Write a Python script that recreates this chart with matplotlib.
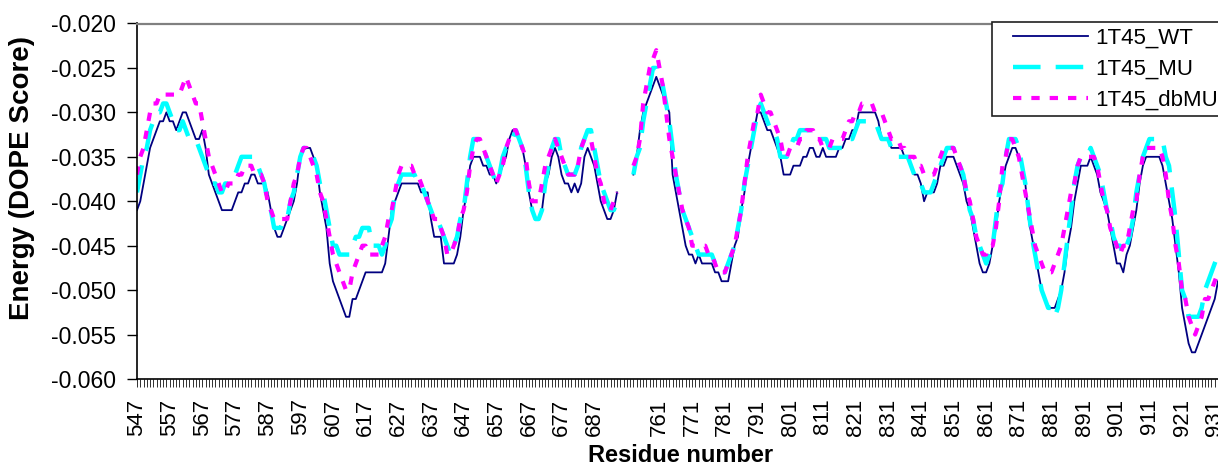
import numpy as np
import matplotlib
matplotlib.use("Agg")
import matplotlib.pyplot as plt
from matplotlib.lines import Line2D
from matplotlib.legend_handler import HandlerLine2D

plt.rcParams["font.family"] = ["Liberation Sans", "DejaVu Sans"]
plt.rcParams["axes.unicode_minus"] = False

# Residue categories: two modelled stretches separated by a few empty rows
residues_a = list(range(547, 695))
residues_b = list(range(753, 933))
n_gap = 4
categories = [str(r) for r in residues_a] + [""] * n_gap + [str(r) for r in residues_b]

# DOPE energy profiles, first stretch (547-694)
wt_a = [-0.041, -0.040, -0.038, -0.036, -0.034, -0.033, -0.032, -0.031, -0.031, -0.030,
        -0.031, -0.031, -0.032, -0.031, -0.030, -0.030, -0.031, -0.032, -0.033, -0.033,
        -0.032, -0.034, -0.037, -0.038, -0.039, -0.040, -0.041, -0.041, -0.041, -0.041,
        -0.040, -0.039, -0.039, -0.038, -0.038, -0.037, -0.037, -0.038, -0.038, -0.038,
        -0.039, -0.041, -0.043, -0.044, -0.044, -0.043, -0.042, -0.041, -0.040, -0.038,
        -0.035, -0.034, -0.034, -0.034, -0.035, -0.036, -0.039, -0.041, -0.043, -0.047,
        -0.049, -0.050, -0.051, -0.052, -0.053, -0.053, -0.051, -0.051, -0.050, -0.049,
        -0.048, -0.048, -0.048, -0.048, -0.048, -0.048, -0.047, -0.044, -0.041, -0.040,
        -0.039, -0.038, -0.038, -0.038, -0.038, -0.038, -0.038, -0.039, -0.039, -0.039,
        -0.042, -0.044, -0.044, -0.044, -0.047, -0.047, -0.047, -0.047, -0.046, -0.044,
        -0.041, -0.039, -0.036, -0.035, -0.035, -0.035, -0.036, -0.036, -0.037, -0.037,
        -0.038, -0.037, -0.036, -0.035, -0.033, -0.032, -0.032, -0.033, -0.034, -0.036,
        -0.039, -0.041, -0.042, -0.042, -0.041, -0.038, -0.037, -0.035, -0.034, -0.035,
        -0.037, -0.038, -0.038, -0.039, -0.038, -0.039, -0.038, -0.035, -0.034, -0.035,
        -0.036, -0.038, -0.040, -0.041, -0.042, -0.042, -0.041, -0.039]
mu_a = [-0.039, -0.037, -0.035, -0.034, -0.032, -0.031, -0.030, -0.030, -0.029, -0.029,
        -0.030, -0.031, -0.032, -0.032, -0.031, -0.032, -0.033, -0.033, -0.033, -0.034,
        -0.035, -0.036, -0.037, -0.038, -0.038, -0.039, -0.039, -0.038, -0.038, -0.037,
        -0.037, -0.036, -0.035, -0.035, -0.035, -0.035, -0.035, -0.036, -0.037, -0.038,
        -0.040, -0.041, -0.043, -0.043, -0.043, -0.042, -0.042, -0.040, -0.039, -0.037,
        -0.035, -0.034, -0.034, -0.034, -0.035, -0.036, -0.038, -0.039, -0.041, -0.043,
        -0.045, -0.045, -0.046, -0.046, -0.046, -0.046, -0.045, -0.044, -0.044, -0.043,
        -0.043, -0.043, -0.045, -0.045, -0.045, -0.046, -0.045, -0.043, -0.042, -0.039,
        -0.038, -0.037, -0.037, -0.037, -0.037, -0.037, -0.038, -0.038, -0.039, -0.040,
        -0.041, -0.042, -0.042, -0.043, -0.044, -0.045, -0.046, -0.045, -0.044, -0.042,
        -0.041, -0.038, -0.035, -0.033, -0.033, -0.033, -0.034, -0.035, -0.036, -0.037,
        -0.038, -0.037, -0.035, -0.034, -0.034, -0.033, -0.032, -0.033, -0.034, -0.036,
        -0.039, -0.041, -0.042, -0.042, -0.041, -0.038, -0.036, -0.034, -0.033, -0.033,
        -0.035, -0.036, -0.037, -0.037, -0.037, -0.036, -0.034, -0.033, -0.032, -0.032,
        -0.034, -0.036, -0.038, -0.039, -0.040, -0.041, -0.041, -0.040]
dbmu_a = [-0.037, -0.035, -0.034, -0.032, -0.030, -0.029, -0.029, -0.028, -0.028, -0.028,
          -0.028, -0.028, -0.028, -0.028, -0.027, -0.026, -0.027, -0.028, -0.029, -0.029,
          -0.031, -0.033, -0.035, -0.036, -0.037, -0.038, -0.039, -0.039, -0.038, -0.038,
          -0.038, -0.037, -0.037, -0.036, -0.036, -0.036, -0.037, -0.037, -0.037, -0.038,
          -0.040, -0.041, -0.042, -0.042, -0.042, -0.042, -0.042, -0.040, -0.038, -0.037,
          -0.035, -0.034, -0.034, -0.035, -0.036, -0.037, -0.039, -0.040, -0.042, -0.044,
          -0.046, -0.047, -0.048, -0.049, -0.050, -0.050, -0.048, -0.047, -0.046, -0.045,
          -0.045, -0.046, -0.046, -0.046, -0.046, -0.045, -0.044, -0.042, -0.041, -0.039,
          -0.037, -0.036, -0.036, -0.036, -0.036, -0.037, -0.037, -0.038, -0.039, -0.040,
          -0.041, -0.042, -0.042, -0.043, -0.044, -0.046, -0.046, -0.045, -0.044, -0.042,
          -0.041, -0.039, -0.036, -0.034, -0.033, -0.033, -0.034, -0.035, -0.036, -0.037,
          -0.038, -0.037, -0.036, -0.034, -0.033, -0.032, -0.032, -0.033, -0.034, -0.035,
          -0.038, -0.040, -0.040, -0.040, -0.038, -0.036, -0.035, -0.034, -0.033, -0.034,
          -0.035, -0.036, -0.037, -0.037, -0.037, -0.036, -0.034, -0.033, -0.033, -0.033,
          -0.035, -0.037, -0.038, -0.040, -0.041, -0.041, -0.040, -0.039]

# Second stretch (753-932)
wt_b = [-0.037, -0.035, -0.032, -0.030, -0.029, -0.028, -0.027, -0.026, -0.027, -0.028,
        -0.029, -0.030, -0.037, -0.039, -0.041, -0.043, -0.045, -0.046, -0.046, -0.047,
        -0.046, -0.047, -0.047, -0.047, -0.047, -0.048, -0.048, -0.049, -0.049, -0.049,
        -0.047, -0.045, -0.044, -0.041, -0.039, -0.036, -0.034, -0.032, -0.030, -0.030,
        -0.031, -0.032, -0.032, -0.033, -0.034, -0.035, -0.037, -0.037, -0.037, -0.036,
        -0.036, -0.036, -0.035, -0.035, -0.034, -0.034, -0.035, -0.035, -0.034, -0.035,
        -0.035, -0.035, -0.035, -0.034, -0.034, -0.033, -0.033, -0.032, -0.032, -0.030,
        -0.030, -0.030, -0.030, -0.030, -0.030, -0.031, -0.033, -0.033, -0.033, -0.034,
        -0.034, -0.034, -0.034, -0.035, -0.035, -0.036, -0.037, -0.037, -0.038, -0.040,
        -0.039, -0.039, -0.039, -0.038, -0.036, -0.036, -0.035, -0.035, -0.035, -0.036,
        -0.037, -0.038, -0.040, -0.041, -0.043, -0.045, -0.047, -0.048, -0.048, -0.047,
        -0.045, -0.043, -0.040, -0.038, -0.036, -0.035, -0.034, -0.034, -0.035, -0.036,
        -0.038, -0.042, -0.044, -0.046, -0.048, -0.050, -0.051, -0.052, -0.052, -0.052,
        -0.051, -0.050, -0.048, -0.045, -0.043, -0.040, -0.038, -0.036, -0.036, -0.036,
        -0.035, -0.036, -0.037, -0.039, -0.040, -0.041, -0.043, -0.045, -0.047, -0.047,
        -0.048, -0.046, -0.045, -0.043, -0.041, -0.038, -0.036, -0.035, -0.035, -0.035,
        -0.035, -0.035, -0.036, -0.038, -0.040, -0.042, -0.045, -0.048, -0.052, -0.054,
        -0.056, -0.057, -0.057, -0.056, -0.055, -0.054, -0.053, -0.052, -0.051, -0.049]
mu_b = [-0.037, -0.035, -0.034, -0.031, -0.029, -0.027, -0.025, -0.025, -0.026, -0.027,
        -0.029, -0.031, -0.034, -0.037, -0.039, -0.041, -0.042, -0.043, -0.044, -0.045,
        -0.046, -0.046, -0.046, -0.046, -0.046, -0.047, -0.047, -0.048, -0.048, -0.047,
        -0.046, -0.045, -0.043, -0.041, -0.038, -0.036, -0.034, -0.032, -0.030, -0.029,
        -0.030, -0.031, -0.032, -0.032, -0.033, -0.035, -0.035, -0.035, -0.034, -0.033,
        -0.033, -0.032, -0.032, -0.032, -0.032, -0.032, -0.033, -0.033, -0.033, -0.033,
        -0.034, -0.034, -0.034, -0.034, -0.034, -0.033, -0.033, -0.033, -0.032, -0.031,
        -0.031, -0.031, -0.031, -0.031, -0.031, -0.032, -0.033, -0.033, -0.033, -0.034,
        -0.034, -0.035, -0.035, -0.035, -0.035, -0.036, -0.037, -0.037, -0.038, -0.039,
        -0.039, -0.039, -0.038, -0.037, -0.036, -0.035, -0.034, -0.034, -0.034, -0.035,
        -0.036, -0.037, -0.039, -0.041, -0.042, -0.044, -0.045, -0.046, -0.047, -0.046,
        -0.045, -0.042, -0.039, -0.038, -0.035, -0.033, -0.033, -0.033, -0.034, -0.036,
        -0.038, -0.041, -0.044, -0.046, -0.048, -0.050, -0.051, -0.052, -0.052, -0.053,
        -0.052, -0.050, -0.047, -0.044, -0.041, -0.038, -0.036, -0.035, -0.035, -0.035,
        -0.034, -0.035, -0.036, -0.037, -0.039, -0.041, -0.042, -0.044, -0.045, -0.045,
        -0.046, -0.045, -0.044, -0.042, -0.039, -0.037, -0.035, -0.034, -0.033, -0.033,
        -0.033, -0.033, -0.033, -0.035, -0.036, -0.039, -0.042, -0.046, -0.050, -0.051,
        -0.053, -0.053, -0.053, -0.053, -0.052, -0.050, -0.049, -0.048, -0.047, -0.046]
dbmu_b = [-0.036, -0.035, -0.033, -0.029, -0.027, -0.025, -0.024, -0.023, -0.025, -0.027,
          -0.030, -0.033, -0.035, -0.037, -0.039, -0.041, -0.042, -0.043, -0.045, -0.045,
          -0.045, -0.045, -0.045, -0.046, -0.046, -0.047, -0.048, -0.048, -0.048, -0.047,
          -0.046, -0.045, -0.043, -0.041, -0.038, -0.035, -0.033, -0.031, -0.030, -0.028,
          -0.029, -0.030, -0.030, -0.031, -0.032, -0.033, -0.035, -0.035, -0.034, -0.034,
          -0.034, -0.033, -0.033, -0.032, -0.032, -0.032, -0.033, -0.033, -0.034, -0.034,
          -0.034, -0.033, -0.033, -0.033, -0.033, -0.032, -0.031, -0.031, -0.030, -0.030,
          -0.029, -0.029, -0.029, -0.029, -0.030, -0.030, -0.030, -0.031, -0.032, -0.033,
          -0.033, -0.033, -0.034, -0.034, -0.035, -0.035, -0.035, -0.036, -0.036, -0.037,
          -0.037, -0.037, -0.037, -0.036, -0.035, -0.034, -0.034, -0.034, -0.034, -0.035,
          -0.036, -0.037, -0.039, -0.040, -0.042, -0.044, -0.045, -0.046, -0.046, -0.045,
          -0.045, -0.043, -0.040, -0.036, -0.035, -0.033, -0.033, -0.034, -0.035, -0.037,
          -0.039, -0.041, -0.043, -0.045, -0.046, -0.047, -0.048, -0.048, -0.048, -0.047,
          -0.046, -0.045, -0.043, -0.041, -0.039, -0.038, -0.036, -0.035, -0.035, -0.035,
          -0.035, -0.035, -0.036, -0.038, -0.040, -0.041, -0.043, -0.044, -0.045, -0.046,
          -0.045, -0.045, -0.043, -0.041, -0.040, -0.037, -0.035, -0.034, -0.034, -0.034,
          -0.034, -0.034, -0.035, -0.037, -0.040, -0.042, -0.045, -0.047, -0.050, -0.051,
          -0.053, -0.054, -0.055, -0.054, -0.053, -0.051, -0.051, -0.050, -0.049, -0.048]

series_names = ["1T45_WT", "1T45_MU", "1T45_dbMU"]
y_ticks = [-0.060, -0.055, -0.050, -0.045, -0.040, -0.035, -0.030, -0.025, -0.020]
y_tick_labels = ["-0.060", "-0.055", "-0.050", "-0.045", "-0.040",
                 "-0.035", "-0.030", "-0.025", "-0.020"]
label_every = 10


def joined(first, second):
    """Concatenate both stretches with empty rows between them."""
    return np.array(first + [np.nan] * n_gap + second, dtype=float)


x = np.arange(len(categories))

W, H = 1218, 468
fig = plt.figure(figsize=(W / 100, H / 100), dpi=100)
fig.patch.set_facecolor("white")
ax = fig.add_axes([137 / W, 89 / H, (W - 137) / W, (379 - 23.5) / H])

ax.plot(x, joined(wt_a, wt_b), color="#000080", lw=1.3, label=series_names[0])
ax.plot(x, joined(mu_a, mu_b), color="#00FFFF", lw=3.2, dashes=(6.2, 3.4),
        dash_capstyle="butt", label=series_names[1])
ax.plot(x, joined(dbmu_a, dbmu_b), color="#FF00FF", lw=3.0, dashes=(2.0, 2.4),
        dash_capstyle="butt", label=series_names[2])

ax.set_xlim(0, len(categories) - 1)
ax.set_ylim(-0.060, -0.020)

ax.set_xticks(x)
ax.set_xticklabels([c if i % label_every == 0 else "" for i, c in enumerate(categories)],
                   rotation=90)
ax.set_yticks(y_ticks)
ax.set_yticklabels(y_tick_labels)

ax.tick_params(axis="x", direction="out", length=6, width=0.7, color="#303030",
               pad=8, labelsize=16)
ax.tick_params(axis="y", direction="out", length=7, width=1.0, color="black",
               pad=8, labelsize=16.5)

ax.spines["right"].set_visible(False)
ax.spines["top"].set_color("#808080")
ax.spines["top"].set_linewidth(1.6)
ax.spines["left"].set_color("black")
ax.spines["left"].set_linewidth(1.2)
ax.spines["bottom"].set_color("black")
ax.spines["bottom"].set_linewidth(1.2)

fig.text(22 / W, 1 - 178 / H, "Energy (DOPE Score)", rotation=90, fontsize=20,
         fontweight="bold", ha="center", va="center")
fig.text(681 / W, 1 - 456 / H, "Residue number", fontsize=17,
         fontweight="bold", ha="center", va="center")

leg = ax.legend(loc="upper left", bbox_to_anchor=(992 / W, 1 - 22 / H),
                bbox_transform=fig.transFigure, fontsize=16, frameon=True,
                fancybox=False, framealpha=1, edgecolor="#202020",
                borderpad=0.25, borderaxespad=0, handlelength=4.07,
                handletextpad=0.32, labelspacing=0.45,
                handler_map={Line2D: HandlerLine2D(xpad=0.69)})
leg.get_frame().set_linewidth(1.2)

fig.savefig("out.png", dpi=100, facecolor="white")
